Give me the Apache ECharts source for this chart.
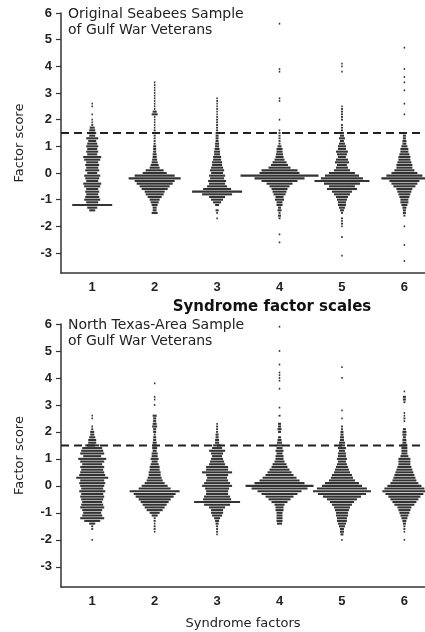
<!DOCTYPE html>
<html>
<head>
<meta charset="utf-8">
<script src="https://cdn.jsdelivr.net/npm/echarts@6/dist/echarts.min.js"></script>
<style>
  html, body { margin: 0; padding: 0; background: #fff; }
  #chart { width: 425px; height: 632px; }
</style>
</head>
<body>
<div id="chart"></div>
<script>
// syndrome factors on the x axis, factor score ticks on the y axis
const factors = [1, 2, 3, 4, 5, 6];
const scoreTicks = [-3, -2, -1, 0, 1, 2, 3, 4, 5, 6];
const cutoff = 1.5;

// each row: [factor score, row width (number of dots)]
// Original Seabees sample
const seabees1 = [[2.6,1.5],[2.5,1.5],[2.2,1.5],[2.0,1.5],[1.9,1.5],[1.8,2],[1.7,5],[1.6,6],[1.5,8],[1.4,6],[1.3,12],[1.2,8],[1.1,10],[1.0,12],[0.9,10],[0.8,12],[0.7,10],[0.6,18],[0.5,16],[0.4,12],[0.3,14],[0.2,12],[0.1,14],[0.0,10],[-0.1,16],[-0.2,14],[-0.3,12],[-0.4,18],[-0.5,16],[-0.6,12],[-0.7,14],[-0.8,12],[-0.9,14],[-1.0,16],[-1.1,12],[-1.2,40],[-1.3,10],[-1.4,6]];
const seabees2 = [[3.4,1.5],[3.3,1.5],[3.2,1.5],[3.1,1.5],[3.0,1.5],[2.9,1.5],[2.8,1.5],[2.7,1.5],[2.6,1.5],[2.5,1.5],[2.4,1.5],[2.3,4],[2.2,6],[2.1,1.5],[2.0,1.5],[1.9,1.5],[1.8,1.5],[1.7,1.5],[1.6,2],[1.5,3],[1.4,2],[1.3,2],[1.2,2],[1.1,2],[1.0,3],[0.9,3],[0.8,3],[0.7,4],[0.6,4],[0.5,5],[0.4,6],[0.3,8],[0.2,10],[0.1,18],[0.0,24],[-0.1,40],[-0.2,52],[-0.3,40],[-0.4,36],[-0.5,30],[-0.6,26],[-0.7,20],[-0.8,18],[-0.9,14],[-1.0,10],[-1.1,8],[-1.2,6],[-1.3,4],[-1.4,4],[-1.5,6]];
const seabees3 = [[2.8,1.5],[2.7,1.5],[2.6,1.5],[2.5,1.5],[2.4,1.5],[2.3,1.5],[2.2,1.5],[2.1,1.5],[2.0,2],[1.9,2],[1.8,2],[1.7,2],[1.6,2],[1.5,3],[1.4,3],[1.3,3],[1.2,3],[1.1,4],[1.0,4],[0.9,5],[0.8,6],[0.7,6],[0.6,8],[0.5,8],[0.4,10],[0.3,10],[0.2,12],[0.1,14],[0.0,12],[-0.1,16],[-0.2,14],[-0.3,18],[-0.4,16],[-0.5,20],[-0.6,28],[-0.7,50],[-0.8,30],[-0.9,16],[-1.0,12],[-1.1,8],[-1.2,4],[-1.4,3],[-1.5,1.5],[-1.7,1.5]];
const seabees4 = [[5.6,1.5],[3.9,1.5],[3.8,1.5],[2.8,1.5],[2.7,1.5],[2.0,1.5],[1.6,1.5],[1.5,2],[1.4,2],[1.3,2],[1.2,2],[1.1,2],[1.0,4],[0.9,6],[0.8,6],[0.7,7],[0.6,8],[0.5,10],[0.4,14],[0.3,17],[0.2,22],[0.1,36],[0.0,40],[-0.1,78],[-0.2,50],[-0.3,36],[-0.4,26],[-0.5,20],[-0.6,16],[-0.7,14],[-0.8,12],[-0.9,8],[-1.0,9],[-1.1,6],[-1.2,6],[-1.3,3],[-1.4,4],[-1.5,2],[-1.6,3],[-1.7,2],[-2.3,1.5],[-2.6,1.5]];
const seabees5 = [[4.1,1.5],[4.0,1.5],[3.8,1.5],[2.5,1.5],[2.4,2],[2.3,2],[2.2,2],[2.1,2],[2.0,2],[1.8,2],[1.7,2],[1.6,2],[1.5,4],[1.4,4],[1.3,6],[1.2,4],[1.1,6],[1.0,8],[0.9,8],[0.8,12],[0.7,10],[0.6,8],[0.5,12],[0.4,14],[0.3,10],[0.2,12],[0.1,16],[0.0,26],[-0.1,34],[-0.2,42],[-0.3,55],[-0.4,36],[-0.5,26],[-0.6,30],[-0.7,20],[-0.8,16],[-0.9,12],[-1.0,10],[-1.1,8],[-1.2,8],[-1.3,6],[-1.4,4],[-1.5,2],[-1.7,2],[-1.8,1.5],[-1.9,2],[-2.0,1.5],[-2.4,1.5],[-3.1,1.5]];
const seabees6 = [[4.7,1.5],[3.9,1.5],[3.6,1.5],[3.4,1.5],[3.1,1.5],[2.6,1.5],[2.2,1.5],[1.5,2],[1.4,3],[1.3,3],[1.2,4],[1.1,4],[1.0,6],[0.9,8],[0.8,8],[0.7,10],[0.6,12],[0.5,12],[0.4,14],[0.3,16],[0.2,16],[0.1,20],[0.0,26],[-0.1,36],[-0.2,46],[-0.3,30],[-0.4,26],[-0.5,22],[-0.6,16],[-0.7,14],[-0.8,12],[-0.9,10],[-1.0,8],[-1.1,8],[-1.2,6],[-1.3,4],[-1.4,3],[-1.5,3],[-1.6,2],[-2.0,1.5],[-2.7,1.5],[-3.3,1.5]];

// North Texas-area sample
const texas1 = [[2.6,1.5],[2.5,1.5],[2.2,1.5],[2.1,2],[2.0,4],[1.9,4],[1.8,6],[1.7,8],[1.6,8],[1.5,14],[1.4,20],[1.3,22],[1.2,24],[1.1,18],[1.0,28],[0.9,24],[0.8,20],[0.7,24],[0.6,22],[0.5,24],[0.4,26],[0.3,32],[0.2,24],[0.1,26],[0.0,24],[-0.1,22],[-0.2,26],[-0.3,22],[-0.4,24],[-0.5,22],[-0.6,20],[-0.7,22],[-0.8,24],[-0.9,20],[-1.0,18],[-1.1,20],[-1.2,24],[-1.3,16],[-1.4,6],[-1.5,2],[-1.6,2],[-2.0,1.5]];
const texas2 = [[3.8,1.5],[3.3,1.5],[3.2,1.5],[3.0,1.5],[2.6,4],[2.5,3],[2.4,3],[2.3,4],[2.2,5],[2.1,3],[2.0,3],[1.9,2],[1.8,3],[1.7,3],[1.6,4],[1.5,4],[1.4,5],[1.3,4],[1.2,6],[1.1,6],[1.0,8],[0.9,6],[0.8,8],[0.7,10],[0.6,10],[0.5,12],[0.4,12],[0.3,14],[0.2,16],[0.1,20],[0.0,26],[-0.1,32],[-0.2,50],[-0.3,42],[-0.4,38],[-0.5,32],[-0.6,28],[-0.7,24],[-0.8,20],[-0.9,16],[-1.0,10],[-1.1,6],[-1.2,2],[-1.3,2],[-1.4,1.5],[-1.5,2],[-1.6,2],[-1.7,1.5]];
const texas3 = [[2.3,1.5],[2.2,2],[2.1,2],[2.0,2],[1.9,3],[1.8,3],[1.7,4],[1.6,4],[1.5,8],[1.4,10],[1.3,16],[1.2,12],[1.1,10],[1.0,12],[0.9,14],[0.8,16],[0.7,22],[0.6,22],[0.5,30],[0.4,22],[0.3,20],[0.2,22],[0.1,26],[0.0,30],[-0.1,24],[-0.2,22],[-0.3,22],[-0.4,26],[-0.5,28],[-0.6,46],[-0.7,26],[-0.8,16],[-0.9,12],[-1.0,12],[-1.1,10],[-1.2,6],[-1.3,4],[-1.4,3],[-1.5,2],[-1.6,2],[-1.7,2],[-1.8,1.5]];
const texas4 = [[5.9,1.5],[5.0,1.5],[4.5,1.5],[4.2,1.5],[4.1,1.5],[4.0,1.5],[3.9,1.5],[3.6,1.5],[2.9,1.5],[2.6,2],[2.3,3],[2.2,3],[2.1,4],[2.0,3],[1.8,3],[1.7,4],[1.6,5],[1.5,6],[1.4,6],[1.3,8],[1.2,6],[1.1,8],[1.0,8],[0.9,10],[0.8,14],[0.7,16],[0.6,20],[0.5,24],[0.4,28],[0.3,34],[0.2,40],[0.1,50],[0.0,68],[-0.1,56],[-0.2,44],[-0.3,36],[-0.4,28],[-0.5,22],[-0.6,16],[-0.7,10],[-0.8,8],[-0.9,8],[-1.0,6],[-1.1,6],[-1.2,6],[-1.3,6],[-1.4,5]];
const texas5 = [[4.4,1.5],[4.0,1.5],[2.8,1.5],[2.5,1.5],[2.2,2],[2.1,2],[2.0,3],[1.9,3],[1.8,4],[1.7,4],[1.6,6],[1.5,6],[1.4,8],[1.3,6],[1.2,8],[1.1,8],[1.0,10],[0.9,8],[0.8,10],[0.7,12],[0.6,14],[0.5,16],[0.4,20],[0.3,22],[0.2,26],[0.1,34],[0.0,40],[-0.1,50],[-0.2,58],[-0.3,48],[-0.4,38],[-0.5,30],[-0.6,24],[-0.7,20],[-0.8,16],[-0.9,14],[-1.0,12],[-1.1,12],[-1.2,10],[-1.3,10],[-1.4,8],[-1.5,6],[-1.6,4],[-1.7,4],[-1.8,3],[-2.0,1.5]];
const texas6 = [[3.5,1.5],[3.3,3],[3.2,3],[3.1,2],[2.7,1.5],[2.6,1.5],[2.5,2],[2.4,1.5],[2.1,3],[2.0,4],[1.9,4],[1.8,3],[1.7,4],[1.6,4],[1.5,6],[1.4,6],[1.3,6],[1.2,6],[1.1,8],[1.0,12],[0.9,12],[0.8,12],[0.7,14],[0.6,16],[0.5,18],[0.4,20],[0.3,22],[0.2,24],[0.1,28],[0.0,34],[-0.1,40],[-0.2,44],[-0.3,38],[-0.4,32],[-0.5,28],[-0.6,24],[-0.7,20],[-0.8,14],[-0.9,12],[-1.0,10],[-1.1,8],[-1.2,6],[-1.3,4],[-1.4,3],[-1.5,2],[-1.6,2],[-1.7,1.5],[-2.0,1.5]];

const seabees = [seabees1, seabees2, seabees3, seabees4, seabees5, seabees6];
const texas = [texas1, texas2, texas3, texas4, texas5, texas6];

const X_MIN = 0.5, X_MAX = 6.33, Y_MIN = -3.75, Y_MAX = 6;
const DOT_PX = 1;      // pixel width of one dot in a row
const ROW_PX = 2.1;    // height of one row
const INK = '#333';
const FONT = 'Liberation Sans, Arial, Helvetica, sans-serif';
const WIDE = 'DejaVu Sans, Verdana, sans-serif';

const chart = echarts.init(document.getElementById('chart'), null, { renderer: 'canvas' });

function rows(groups) {
  const out = [];
  groups.forEach((g, i) => g.forEach(r => out.push([factors[i], r[0], r[1]])));
  return out;
}

function renderRow(params, api) {
  const p = api.coord([api.value(0), api.value(1)]);
  const w = Math.max(api.value(2) * DOT_PX, 1.5);
  const h = api.value(2) <= 2 ? 1.8 : ROW_PX;
  return {
    type: 'rect',
    shape: { x: p[0] - w / 2, y: p[1] - h / 2, width: w, height: h },
    style: { fill: INK }
  };
}

function xAxis(idx, name) {
  return {
    type: 'value', gridIndex: idx, min: X_MIN, max: X_MAX,
    name: name, nameLocation: 'middle', nameGap: 30,
    nameTextStyle: { fontFamily: WIDE, fontSize: 13, color: '#222' },
    axisLine: { onZero: false, lineStyle: { color: '#333', width: 1.5 } },
    axisTick: { show: false },
    splitLine: { show: false },
    axisLabel: {
      customValues: factors, margin: 8,
      fontFamily: FONT, fontSize: 13, fontWeight: 'bold', color: '#222'
    }
  };
}

function yAxis(idx) {
  return {
    type: 'value', gridIndex: idx, min: Y_MIN, max: Y_MAX,
    name: 'Factor score', nameLocation: 'middle', nameGap: 35,
    nameTextStyle: { fontFamily: WIDE, fontSize: 13, color: '#222' },
    axisLine: { show: true, onZero: false, lineStyle: { color: '#333', width: 1.5 } },
    axisTick: { show: true, customValues: scoreTicks, length: 5, lineStyle: { color: '#333', width: 1.2 } },
    splitLine: { show: false },
    axisLabel: {
      customValues: scoreTicks, margin: 9,
      fontFamily: FONT, fontSize: 13, fontWeight: 'bold', color: '#222'
    }
  };
}

function cutoffLine(idx) {
  return {
    type: 'line', xAxisIndex: idx, yAxisIndex: idx,
    data: [[X_MIN, cutoff], [X_MAX, cutoff]],
    symbol: 'none', silent: true, z: 5,
    lineStyle: { color: '#222', width: 2, type: [8, 5] }
  };
}

const option = {
  animation: false,
  backgroundColor: '#fff',
  title: [
    {
      text: 'Original Seabees Sample\nof Gulf War Veterans', left: 63, top: 1,
      textStyle: { fontFamily: WIDE, fontSize: 14, fontWeight: 'normal', color: '#222', lineHeight: 16 }
    },
    {
      text: 'North Texas-Area Sample\nof Gulf War Veterans', left: 63, top: 312,
      textStyle: { fontFamily: WIDE, fontSize: 14, fontWeight: 'normal', color: '#222', lineHeight: 16 }
    },
    {
      text: 'Syndrome factor scales', left: 267, top: 295, textAlign: 'center',
      textStyle: { fontFamily: WIDE, fontSize: 15, fontWeight: 'bold', color: '#111' }
    }
  ],
  grid: [
    { left: 61, top: 13, width: 364, height: 260 },
    { left: 61, top: 324, width: 364, height: 263 }
  ],
  xAxis: [xAxis(0, ''), xAxis(1, 'Syndrome factors')],
  yAxis: [yAxis(0), yAxis(1)],
  series: [
    { type: 'custom', xAxisIndex: 0, yAxisIndex: 0, data: rows(seabees), renderItem: renderRow, clip: false },
    { type: 'custom', xAxisIndex: 1, yAxisIndex: 1, data: rows(texas), renderItem: renderRow, clip: false },
    cutoffLine(0),
    cutoffLine(1)
  ]
};

chart.setOption(option);
window.addEventListener('resize', () => chart.resize());
</script>
</body>
</html>
